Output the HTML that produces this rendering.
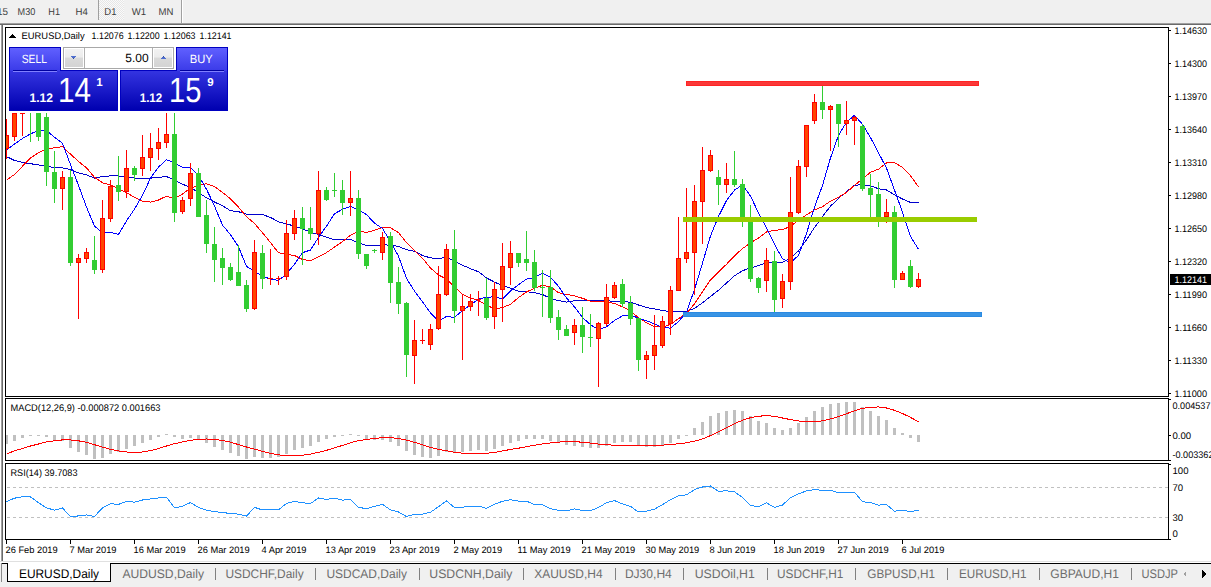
<!DOCTYPE html>
<html><head><meta charset="utf-8">
<style>
html,body{margin:0;padding:0;width:1211px;height:587px;overflow:hidden;background:#fff;}
svg text{font-family:"Liberation Sans",sans-serif;}
</style></head><body>
<svg width="1211" height="587" style="position:absolute;left:0;top:0" shape-rendering="crispEdges">
<defs>
<clipPath id="cm"><rect x="6" y="28" width="1162" height="368"/></clipPath>
<clipPath id="cmacd"><rect x="6" y="399" width="1162" height="61"/></clipPath>
<clipPath id="crsi"><rect x="6" y="464" width="1162" height="75"/></clipPath>
</defs>
<rect x="0" y="0" width="1211" height="23" fill="#f0f0f0"/>
<rect x="0" y="23" width="1211" height="1" fill="#a0a0a0"/>
<rect x="0" y="24" width="1211" height="1" fill="#6a6a6a"/>
<rect x="98" y="0" width="1" height="20" fill="#a0a0a0"/>
<pattern id="dith" width="2" height="2" patternUnits="userSpaceOnUse"><rect width="2" height="2" fill="#fafafa"/><rect width="1" height="1" fill="#e6e6e6"/><rect x="1" y="1" width="1" height="1" fill="#e6e6e6"/></pattern><rect x="99" y="0" width="25" height="20" fill="url(#dith)"/>
<rect x="181" y="0" width="1" height="23" fill="#a0a0a0"/>
<rect x="182" y="0" width="1" height="23" fill="#ffffff"/>
<rect x="1" y="25" width="1" height="536" fill="#a0a0a0"/>
<rect x="2" y="25" width="1" height="536" fill="#6a6a6a"/>
<rect x="5.5" y="27.5" width="1163" height="369" fill="none" stroke="#000" stroke-width="1"/>
<rect x="5.5" y="398.5" width="1163" height="62" fill="none" stroke="#000" stroke-width="1"/>
<rect x="5.5" y="463.5" width="1163" height="76" fill="none" stroke="#000" stroke-width="1"/>
<rect x="0" y="561" width="1211" height="26" fill="#f0f0f0"/>
<rect x="0" y="561" width="1211" height="1" fill="#e0e0e0"/>
<rect x="0" y="562" width="1211" height="1" fill="#ffffff"/>
<rect x="1" y="563" width="1210" height="1" fill="#000"/>
<rect x="1" y="563" width="1" height="19" fill="#8a8a8a"/>
<rect x="7" y="563" width="104" height="19" fill="#fff"/>
<rect x="7" y="563" width="1" height="19" fill="#000"/>
<rect x="110" y="563" width="1" height="19" fill="#000"/>
<rect x="7" y="581" width="104" height="1" fill="#000"/>
<rect x="215" y="568" width="1" height="12" fill="#808080"/>
<rect x="315" y="568" width="1" height="12" fill="#808080"/>
<rect x="419" y="568" width="1" height="12" fill="#808080"/>
<rect x="523" y="568" width="1" height="12" fill="#808080"/>
<rect x="615" y="568" width="1" height="12" fill="#808080"/>
<rect x="683" y="568" width="1" height="12" fill="#808080"/>
<rect x="767" y="568" width="1" height="12" fill="#808080"/>
<rect x="855" y="568" width="1" height="12" fill="#808080"/>
<rect x="947" y="568" width="1" height="12" fill="#808080"/>
<rect x="1039" y="568" width="1" height="12" fill="#808080"/>
<rect x="1131" y="568" width="1" height="12" fill="#808080"/>
<g clip-path="url(#cm)"><polyline points="6.5,156.6 14.5,160.5 22.5,162.3 30.5,163.7 38.5,164.9 46.5,166.0 54.5,167.7 62.5,167.9 70.5,169.6 78.5,172.9 86.5,174.9 94.5,178.1 102.5,176.4 110.5,175.9 118.5,175.9 126.5,177.3 134.5,178.1 142.5,178.7 150.5,178.1 158.5,177.5 166.5,176.5 174.5,180.2 182.5,184.3 190.5,187.2 198.5,192.7 206.5,197.8 214.5,202.0 222.5,205.8 230.5,210.7 238.5,211.7 246.5,214.1 254.5,214.1 262.5,214.6 270.5,217.4 278.5,221.8 286.5,223.8 294.5,226.2 302.5,228.7 310.5,232.3 318.5,234.4 326.5,237.1 334.5,239.8 342.5,239.3 350.5,239.2 358.5,243.0 366.5,245.4 374.5,245.7 382.5,244.6 390.5,245.3 398.5,246.4 406.5,249.7 414.5,251.2 422.5,255.5 430.5,257.9 438.5,258.6 446.5,257.3 454.5,261.0 462.5,265.2 470.5,268.7 478.5,271.8 486.5,277.9 494.5,282.1 502.5,285.7 510.5,288.2 518.5,291.2 526.5,291.7 534.5,292.7 542.5,294.5 550.5,298.4 558.5,300.6 566.5,302.1 574.5,300.7 582.5,300.5 590.5,300.4 598.5,300.1 606.5,300.2 614.5,301.9 622.5,301.6 630.5,302.2 638.5,305.0 646.5,307.6 654.5,308.9 662.5,310.5 670.5,311.6 678.5,311.8 686.5,311.3 694.5,308.4 702.5,302.8 710.5,296.5 718.5,290.2 726.5,283.0 734.5,275.8 742.5,270.7 750.5,267.9 758.5,265.6 766.5,262.6 774.5,262.7 782.5,262.5 790.5,258.1 798.5,250.9 806.5,239.7 814.5,227.6 822.5,216.4 830.5,206.2 838.5,198.3 846.5,191.7 854.5,185.3 862.5,184.6 870.5,185.8 878.5,188.7 886.5,190.0 894.5,194.8 902.5,199.0 910.5,202.4 918.5,202.4" fill="none" stroke="#0000cd" stroke-width="1"/>
<polyline points="6.5,180.3 14.5,174.4 22.5,166.2 30.5,158.1 38.5,152.6 46.5,149.0 54.5,147.7 62.5,146.7 70.5,154.1 78.5,161.5 86.5,167.9 94.5,177.3 102.5,182.8 110.5,184.8 118.5,188.9 126.5,192.8 134.5,197.2 142.5,201.3 150.5,202.1 158.5,200.0 166.5,196.1 174.5,198.6 182.5,194.1 190.5,188.1 198.5,185.5 206.5,183.7 214.5,186.6 222.5,192.4 230.5,198.8 238.5,207.2 246.5,216.7 254.5,223.5 262.5,232.8 270.5,242.6 278.5,252.8 286.5,254.3 294.5,255.5 302.5,259.5 310.5,260.7 318.5,256.9 326.5,252.6 334.5,247.1 342.5,241.6 350.5,235.3 358.5,231.4 366.5,232.3 374.5,230.3 382.5,227.4 390.5,227.7 398.5,232.7 406.5,242.5 414.5,250.5 422.5,258.2 430.5,268.1 438.5,274.9 446.5,279.1 454.5,286.8 462.5,294.5 470.5,298.0 478.5,300.4 486.5,305.2 494.5,308.9 502.5,307.7 510.5,304.2 518.5,297.6 526.5,292.0 534.5,288.2 542.5,285.3 550.5,286.9 558.5,292.7 566.5,294.5 574.5,295.8 582.5,298.3 590.5,301.1 598.5,301.4 606.5,302.0 614.5,303.4 622.5,306.9 630.5,310.9 638.5,317.9 646.5,322.7 654.5,326.8 662.5,327.1 670.5,324.3 678.5,318.7 686.5,313.5 694.5,303.8 702.5,291.9 710.5,279.9 718.5,271.9 726.5,264.3 734.5,255.8 742.5,248.6 750.5,242.8 758.5,238.0 766.5,231.9 774.5,230.3 782.5,229.7 790.5,226.4 798.5,220.2 806.5,214.8 814.5,209.9 822.5,206.7 830.5,201.1 838.5,197.1 846.5,192.5 854.5,185.4 862.5,178.9 870.5,172.3 878.5,169.2 886.5,162.9 894.5,162.8 902.5,167.2 910.5,175.8 918.5,186.8" fill="none" stroke="#ff0000" stroke-width="1"/>
<polyline points="6.5,150.0 14.5,144.0 22.5,138.5 30.5,133.8 38.5,130.6 46.5,130.6 54.5,137.3 62.5,143.3 70.5,164.7 78.5,185.4 86.5,207.1 94.5,226.1 102.5,232.8 110.5,232.4 118.5,234.5 126.5,220.9 134.5,209.0 142.5,195.4 150.5,178.1 158.5,167.1 166.5,159.8 174.5,162.8 182.5,167.4 190.5,167.2 198.5,175.6 206.5,189.2 214.5,206.1 222.5,225.1 230.5,234.7 238.5,246.9 246.5,266.3 254.5,271.4 262.5,276.4 270.5,279.0 278.5,280.5 286.5,273.9 294.5,264.1 302.5,252.7 310.5,250.0 318.5,237.4 326.5,226.2 334.5,213.7 342.5,209.3 350.5,206.5 358.5,210.0 366.5,214.6 374.5,223.2 382.5,228.5 390.5,241.7 398.5,256.2 406.5,278.5 414.5,291.0 422.5,301.7 430.5,313.0 438.5,321.2 446.5,316.4 454.5,317.4 462.5,310.5 470.5,304.9 478.5,299.0 486.5,297.4 494.5,296.7 502.5,299.1 510.5,290.9 518.5,284.7 526.5,279.1 534.5,277.5 542.5,273.2 550.5,277.2 558.5,286.3 566.5,298.0 574.5,306.9 582.5,317.5 590.5,324.7 598.5,329.7 606.5,326.8 614.5,320.5 622.5,315.8 630.5,314.9 638.5,318.2 646.5,320.7 654.5,323.9 662.5,327.4 670.5,328.1 678.5,321.6 686.5,312.1 694.5,289.5 702.5,263.1 710.5,235.9 718.5,216.4 726.5,200.6 734.5,190.1 742.5,185.0 750.5,196.1 758.5,212.9 766.5,227.9 774.5,244.3 782.5,258.8 790.5,262.7 798.5,255.4 806.5,233.5 814.5,207.0 822.5,185.5 830.5,157.9 838.5,135.4 846.5,122.3 854.5,115.3 862.5,124.3 870.5,137.5 878.5,152.8 886.5,168.0 894.5,190.2 902.5,212.1 910.5,236.4 918.5,249.4" fill="none" stroke="#0000ff" stroke-width="1"/>
<rect x="6" y="119" width="1" height="40" fill="#ff0000"/>
<rect x="4" y="135" width="5" height="14" fill="#ff0000"/>
<rect x="5" y="136" width="3" height="12" fill="#ff4500"/>
<rect x="14" y="113" width="1" height="28" fill="#ff0000"/>
<rect x="12" y="113" width="5" height="24" fill="#ff0000"/>
<rect x="13" y="114" width="3" height="22" fill="#ff4500"/>
<rect x="22" y="113" width="1" height="23" fill="#ff0000"/>
<rect x="20" y="113" width="5" height="1" fill="#ff0000"/>
<rect x="30" y="113" width="1" height="29" fill="#32cd32"/>
<rect x="28" y="100" width="5" height="1" fill="#32cd32"/>
<rect x="38" y="113" width="1" height="28" fill="#32cd32"/>
<rect x="36" y="113" width="5" height="24" fill="#32cd32"/>
<rect x="46" y="113" width="1" height="73" fill="#32cd32"/>
<rect x="44" y="117" width="5" height="55" fill="#32cd32"/>
<rect x="54" y="151" width="1" height="52" fill="#32cd32"/>
<rect x="52" y="172" width="5" height="17" fill="#32cd32"/>
<rect x="62" y="171" width="1" height="39" fill="#ff0000"/>
<rect x="60" y="177" width="5" height="12" fill="#ff0000"/>
<rect x="61" y="178" width="3" height="10" fill="#ff4500"/>
<rect x="70" y="170" width="1" height="96" fill="#32cd32"/>
<rect x="68" y="177" width="5" height="86" fill="#32cd32"/>
<rect x="78" y="254" width="1" height="65" fill="#ff0000"/>
<rect x="76" y="258" width="5" height="5" fill="#ff0000"/>
<rect x="77" y="259" width="3" height="3" fill="#ff4500"/>
<rect x="86" y="248" width="1" height="15" fill="#ff0000"/>
<rect x="84" y="252" width="5" height="7" fill="#ff0000"/>
<rect x="85" y="253" width="3" height="5" fill="#ff4500"/>
<rect x="94" y="236" width="1" height="38" fill="#32cd32"/>
<rect x="92" y="260" width="5" height="10" fill="#32cd32"/>
<rect x="102" y="200" width="1" height="73" fill="#ff0000"/>
<rect x="100" y="218" width="5" height="52" fill="#ff0000"/>
<rect x="101" y="219" width="3" height="50" fill="#ff4500"/>
<rect x="110" y="180" width="1" height="42" fill="#ff0000"/>
<rect x="108" y="186" width="5" height="33" fill="#ff0000"/>
<rect x="109" y="187" width="3" height="31" fill="#ff4500"/>
<rect x="118" y="156" width="1" height="45" fill="#32cd32"/>
<rect x="116" y="185" width="5" height="7" fill="#32cd32"/>
<rect x="126" y="150" width="1" height="48" fill="#ff0000"/>
<rect x="124" y="168" width="5" height="24" fill="#ff0000"/>
<rect x="125" y="169" width="3" height="22" fill="#ff4500"/>
<rect x="134" y="166" width="1" height="15" fill="#32cd32"/>
<rect x="132" y="168" width="5" height="7" fill="#32cd32"/>
<rect x="142" y="135" width="1" height="41" fill="#ff0000"/>
<rect x="140" y="157" width="5" height="12" fill="#ff0000"/>
<rect x="141" y="158" width="3" height="10" fill="#ff4500"/>
<rect x="150" y="133" width="1" height="38" fill="#ff0000"/>
<rect x="148" y="148" width="5" height="10" fill="#ff0000"/>
<rect x="149" y="149" width="3" height="8" fill="#ff4500"/>
<rect x="158" y="128" width="1" height="32" fill="#ff0000"/>
<rect x="156" y="142" width="5" height="7" fill="#ff0000"/>
<rect x="157" y="143" width="3" height="5" fill="#ff4500"/>
<rect x="166" y="113" width="1" height="35" fill="#ff0000"/>
<rect x="164" y="134" width="5" height="9" fill="#ff0000"/>
<rect x="165" y="135" width="3" height="7" fill="#ff4500"/>
<rect x="174" y="113" width="1" height="109" fill="#32cd32"/>
<rect x="172" y="134" width="5" height="79" fill="#32cd32"/>
<rect x="182" y="197" width="1" height="17" fill="#ff0000"/>
<rect x="180" y="200" width="5" height="12" fill="#ff0000"/>
<rect x="181" y="201" width="3" height="10" fill="#ff4500"/>
<rect x="190" y="163" width="1" height="43" fill="#ff0000"/>
<rect x="188" y="173" width="5" height="26" fill="#ff0000"/>
<rect x="189" y="174" width="3" height="24" fill="#ff4500"/>
<rect x="198" y="168" width="1" height="49" fill="#32cd32"/>
<rect x="196" y="173" width="5" height="44" fill="#32cd32"/>
<rect x="206" y="200" width="1" height="53" fill="#32cd32"/>
<rect x="204" y="215" width="5" height="29" fill="#32cd32"/>
<rect x="214" y="227" width="1" height="55" fill="#32cd32"/>
<rect x="212" y="244" width="5" height="16" fill="#32cd32"/>
<rect x="222" y="248" width="1" height="37" fill="#32cd32"/>
<rect x="220" y="258" width="5" height="10" fill="#32cd32"/>
<rect x="230" y="263" width="1" height="18" fill="#32cd32"/>
<rect x="228" y="267" width="5" height="13" fill="#32cd32"/>
<rect x="238" y="245" width="1" height="41" fill="#32cd32"/>
<rect x="236" y="272" width="5" height="14" fill="#32cd32"/>
<rect x="246" y="280" width="1" height="32" fill="#32cd32"/>
<rect x="244" y="285" width="5" height="24" fill="#32cd32"/>
<rect x="254" y="240" width="1" height="70" fill="#ff0000"/>
<rect x="252" y="252" width="5" height="57" fill="#ff0000"/>
<rect x="253" y="253" width="3" height="55" fill="#ff4500"/>
<rect x="262" y="245" width="1" height="44" fill="#32cd32"/>
<rect x="260" y="253" width="5" height="26" fill="#32cd32"/>
<rect x="270" y="249" width="1" height="36" fill="#ff0000"/>
<rect x="268" y="278" width="5" height="1" fill="#ff0000"/>
<rect x="278" y="276" width="1" height="9" fill="#ff0000"/>
<rect x="276" y="278" width="5" height="1" fill="#ff0000"/>
<rect x="286" y="220" width="1" height="60" fill="#ff0000"/>
<rect x="284" y="233" width="5" height="44" fill="#ff0000"/>
<rect x="285" y="234" width="3" height="42" fill="#ff4500"/>
<rect x="294" y="210" width="1" height="30" fill="#ff0000"/>
<rect x="292" y="218" width="5" height="16" fill="#ff0000"/>
<rect x="293" y="219" width="3" height="14" fill="#ff4500"/>
<rect x="302" y="207" width="1" height="58" fill="#32cd32"/>
<rect x="300" y="218" width="5" height="11" fill="#32cd32"/>
<rect x="310" y="207" width="1" height="33" fill="#32cd32"/>
<rect x="308" y="228" width="5" height="6" fill="#32cd32"/>
<rect x="318" y="171" width="1" height="74" fill="#ff0000"/>
<rect x="316" y="190" width="5" height="44" fill="#ff0000"/>
<rect x="317" y="191" width="3" height="42" fill="#ff4500"/>
<rect x="326" y="187" width="1" height="14" fill="#32cd32"/>
<rect x="324" y="190" width="5" height="10" fill="#32cd32"/>
<rect x="334" y="173" width="1" height="24" fill="#32cd32"/>
<rect x="332" y="190" width="5" height="1" fill="#32cd32"/>
<rect x="342" y="180" width="1" height="35" fill="#32cd32"/>
<rect x="340" y="190" width="5" height="13" fill="#32cd32"/>
<rect x="350" y="171" width="1" height="45" fill="#ff0000"/>
<rect x="348" y="198" width="5" height="5" fill="#ff0000"/>
<rect x="349" y="199" width="3" height="3" fill="#ff4500"/>
<rect x="358" y="190" width="1" height="69" fill="#32cd32"/>
<rect x="356" y="198" width="5" height="56" fill="#32cd32"/>
<rect x="366" y="254" width="1" height="15" fill="#32cd32"/>
<rect x="364" y="254" width="5" height="12" fill="#32cd32"/>
<rect x="374" y="249" width="1" height="4" fill="#32cd32"/>
<rect x="372" y="250" width="5" height="1" fill="#32cd32"/>
<rect x="382" y="232" width="1" height="28" fill="#ff0000"/>
<rect x="380" y="237" width="5" height="16" fill="#ff0000"/>
<rect x="381" y="238" width="3" height="14" fill="#ff4500"/>
<rect x="390" y="232" width="1" height="71" fill="#32cd32"/>
<rect x="388" y="236" width="5" height="47" fill="#32cd32"/>
<rect x="398" y="267" width="1" height="47" fill="#32cd32"/>
<rect x="396" y="282" width="5" height="22" fill="#32cd32"/>
<rect x="406" y="302" width="1" height="75" fill="#32cd32"/>
<rect x="404" y="303" width="5" height="52" fill="#32cd32"/>
<rect x="414" y="320" width="1" height="64" fill="#ff0000"/>
<rect x="412" y="340" width="5" height="16" fill="#ff0000"/>
<rect x="413" y="341" width="3" height="14" fill="#ff4500"/>
<rect x="422" y="329" width="1" height="15" fill="#ff0000"/>
<rect x="420" y="340" width="5" height="1" fill="#ff0000"/>
<rect x="430" y="324" width="1" height="26" fill="#ff0000"/>
<rect x="428" y="329" width="5" height="16" fill="#ff0000"/>
<rect x="429" y="330" width="3" height="14" fill="#ff4500"/>
<rect x="438" y="266" width="1" height="64" fill="#ff0000"/>
<rect x="436" y="294" width="5" height="35" fill="#ff0000"/>
<rect x="437" y="295" width="3" height="33" fill="#ff4500"/>
<rect x="446" y="244" width="1" height="52" fill="#ff0000"/>
<rect x="444" y="249" width="5" height="46" fill="#ff0000"/>
<rect x="445" y="250" width="3" height="44" fill="#ff4500"/>
<rect x="454" y="230" width="1" height="93" fill="#32cd32"/>
<rect x="452" y="249" width="5" height="62" fill="#32cd32"/>
<rect x="462" y="295" width="1" height="65" fill="#ff0000"/>
<rect x="460" y="306" width="5" height="5" fill="#ff0000"/>
<rect x="461" y="307" width="3" height="3" fill="#ff4500"/>
<rect x="470" y="294" width="1" height="17" fill="#ff0000"/>
<rect x="468" y="301" width="5" height="6" fill="#ff0000"/>
<rect x="469" y="302" width="3" height="4" fill="#ff4500"/>
<rect x="478" y="291" width="1" height="25" fill="#ff0000"/>
<rect x="476" y="299" width="5" height="1" fill="#ff0000"/>
<rect x="486" y="278" width="1" height="42" fill="#32cd32"/>
<rect x="484" y="298" width="5" height="20" fill="#32cd32"/>
<rect x="494" y="282" width="1" height="47" fill="#ff0000"/>
<rect x="492" y="289" width="5" height="28" fill="#ff0000"/>
<rect x="493" y="290" width="3" height="26" fill="#ff4500"/>
<rect x="502" y="243" width="1" height="79" fill="#ff0000"/>
<rect x="500" y="266" width="5" height="24" fill="#ff0000"/>
<rect x="501" y="267" width="3" height="22" fill="#ff4500"/>
<rect x="510" y="241" width="1" height="44" fill="#ff0000"/>
<rect x="508" y="253" width="5" height="15" fill="#ff0000"/>
<rect x="509" y="254" width="3" height="13" fill="#ff4500"/>
<rect x="518" y="253" width="1" height="14" fill="#32cd32"/>
<rect x="516" y="253" width="5" height="10" fill="#32cd32"/>
<rect x="526" y="231" width="1" height="40" fill="#32cd32"/>
<rect x="524" y="259" width="5" height="4" fill="#32cd32"/>
<rect x="534" y="250" width="1" height="41" fill="#32cd32"/>
<rect x="532" y="262" width="5" height="26" fill="#32cd32"/>
<rect x="542" y="270" width="1" height="47" fill="#32cd32"/>
<rect x="540" y="287" width="5" height="1" fill="#32cd32"/>
<rect x="550" y="270" width="1" height="53" fill="#32cd32"/>
<rect x="548" y="287" width="5" height="31" fill="#32cd32"/>
<rect x="558" y="310" width="1" height="30" fill="#32cd32"/>
<rect x="556" y="317" width="5" height="13" fill="#32cd32"/>
<rect x="566" y="325" width="1" height="11" fill="#32cd32"/>
<rect x="564" y="329" width="5" height="7" fill="#32cd32"/>
<rect x="574" y="319" width="1" height="26" fill="#ff0000"/>
<rect x="572" y="325" width="5" height="8" fill="#ff0000"/>
<rect x="573" y="326" width="3" height="6" fill="#ff4500"/>
<rect x="582" y="307" width="1" height="46" fill="#32cd32"/>
<rect x="580" y="325" width="5" height="12" fill="#32cd32"/>
<rect x="590" y="314" width="1" height="33" fill="#32cd32"/>
<rect x="588" y="337" width="5" height="1" fill="#32cd32"/>
<rect x="598" y="322" width="1" height="65" fill="#ff0000"/>
<rect x="596" y="323" width="5" height="16" fill="#ff0000"/>
<rect x="597" y="324" width="3" height="14" fill="#ff4500"/>
<rect x="606" y="284" width="1" height="42" fill="#ff0000"/>
<rect x="604" y="297" width="5" height="27" fill="#ff0000"/>
<rect x="605" y="298" width="3" height="25" fill="#ff4500"/>
<rect x="614" y="282" width="1" height="17" fill="#ff0000"/>
<rect x="612" y="285" width="5" height="13" fill="#ff0000"/>
<rect x="613" y="286" width="3" height="11" fill="#ff4500"/>
<rect x="622" y="279" width="1" height="28" fill="#32cd32"/>
<rect x="620" y="284" width="5" height="20" fill="#32cd32"/>
<rect x="630" y="296" width="1" height="29" fill="#32cd32"/>
<rect x="628" y="303" width="5" height="16" fill="#32cd32"/>
<rect x="638" y="318" width="1" height="53" fill="#32cd32"/>
<rect x="636" y="318" width="5" height="42" fill="#32cd32"/>
<rect x="646" y="351" width="1" height="28" fill="#ff0000"/>
<rect x="644" y="355" width="5" height="5" fill="#ff0000"/>
<rect x="645" y="356" width="3" height="3" fill="#ff4500"/>
<rect x="654" y="315" width="1" height="55" fill="#ff0000"/>
<rect x="652" y="345" width="5" height="11" fill="#ff0000"/>
<rect x="653" y="346" width="3" height="9" fill="#ff4500"/>
<rect x="662" y="316" width="1" height="32" fill="#ff0000"/>
<rect x="660" y="321" width="5" height="25" fill="#ff0000"/>
<rect x="661" y="322" width="3" height="23" fill="#ff4500"/>
<rect x="670" y="286" width="1" height="49" fill="#ff0000"/>
<rect x="668" y="290" width="5" height="34" fill="#ff0000"/>
<rect x="669" y="291" width="3" height="32" fill="#ff4500"/>
<rect x="678" y="217" width="1" height="74" fill="#ff0000"/>
<rect x="676" y="258" width="5" height="33" fill="#ff0000"/>
<rect x="677" y="259" width="3" height="31" fill="#ff4500"/>
<rect x="686" y="188" width="1" height="75" fill="#ff0000"/>
<rect x="684" y="252" width="5" height="7" fill="#ff0000"/>
<rect x="685" y="253" width="3" height="5" fill="#ff4500"/>
<rect x="694" y="185" width="1" height="110" fill="#ff0000"/>
<rect x="692" y="201" width="5" height="52" fill="#ff0000"/>
<rect x="693" y="202" width="3" height="50" fill="#ff4500"/>
<rect x="702" y="147" width="1" height="97" fill="#ff0000"/>
<rect x="700" y="170" width="5" height="32" fill="#ff0000"/>
<rect x="701" y="171" width="3" height="30" fill="#ff4500"/>
<rect x="710" y="150" width="1" height="22" fill="#ff0000"/>
<rect x="708" y="155" width="5" height="16" fill="#ff0000"/>
<rect x="709" y="156" width="3" height="14" fill="#ff4500"/>
<rect x="718" y="170" width="1" height="35" fill="#32cd32"/>
<rect x="716" y="177" width="5" height="8" fill="#32cd32"/>
<rect x="726" y="163" width="1" height="30" fill="#ff0000"/>
<rect x="724" y="179" width="5" height="6" fill="#ff0000"/>
<rect x="725" y="180" width="3" height="4" fill="#ff4500"/>
<rect x="734" y="151" width="1" height="36" fill="#32cd32"/>
<rect x="732" y="179" width="5" height="6" fill="#32cd32"/>
<rect x="742" y="179" width="1" height="48" fill="#32cd32"/>
<rect x="740" y="184" width="5" height="33" fill="#32cd32"/>
<rect x="750" y="205" width="1" height="77" fill="#32cd32"/>
<rect x="748" y="222" width="5" height="57" fill="#32cd32"/>
<rect x="758" y="277" width="1" height="16" fill="#32cd32"/>
<rect x="756" y="278" width="5" height="10" fill="#32cd32"/>
<rect x="766" y="248" width="1" height="44" fill="#ff0000"/>
<rect x="764" y="260" width="5" height="21" fill="#ff0000"/>
<rect x="765" y="261" width="3" height="19" fill="#ff4500"/>
<rect x="774" y="251" width="1" height="61" fill="#32cd32"/>
<rect x="772" y="261" width="5" height="39" fill="#32cd32"/>
<rect x="782" y="274" width="1" height="34" fill="#ff0000"/>
<rect x="780" y="281" width="5" height="18" fill="#ff0000"/>
<rect x="781" y="282" width="3" height="16" fill="#ff4500"/>
<rect x="790" y="177" width="1" height="113" fill="#ff0000"/>
<rect x="788" y="212" width="5" height="70" fill="#ff0000"/>
<rect x="789" y="213" width="3" height="68" fill="#ff4500"/>
<rect x="798" y="160" width="1" height="54" fill="#ff0000"/>
<rect x="796" y="166" width="5" height="47" fill="#ff0000"/>
<rect x="797" y="167" width="3" height="45" fill="#ff4500"/>
<rect x="806" y="125" width="1" height="52" fill="#ff0000"/>
<rect x="804" y="125" width="5" height="42" fill="#ff0000"/>
<rect x="805" y="126" width="3" height="40" fill="#ff4500"/>
<rect x="814" y="94" width="1" height="30" fill="#ff0000"/>
<rect x="812" y="102" width="5" height="19" fill="#ff0000"/>
<rect x="813" y="103" width="3" height="17" fill="#ff4500"/>
<rect x="822" y="86" width="1" height="33" fill="#32cd32"/>
<rect x="820" y="102" width="5" height="8" fill="#32cd32"/>
<rect x="830" y="105" width="1" height="46" fill="#ff0000"/>
<rect x="828" y="106" width="5" height="4" fill="#ff0000"/>
<rect x="829" y="107" width="3" height="2" fill="#ff4500"/>
<rect x="838" y="104" width="1" height="43" fill="#32cd32"/>
<rect x="836" y="104" width="5" height="20" fill="#32cd32"/>
<rect x="846" y="101" width="1" height="34" fill="#ff0000"/>
<rect x="844" y="120" width="5" height="4" fill="#ff0000"/>
<rect x="845" y="121" width="3" height="2" fill="#ff4500"/>
<rect x="854" y="116" width="1" height="29" fill="#ff0000"/>
<rect x="852" y="117" width="5" height="4" fill="#ff0000"/>
<rect x="853" y="118" width="3" height="2" fill="#ff4500"/>
<rect x="862" y="124" width="1" height="67" fill="#32cd32"/>
<rect x="860" y="126" width="5" height="63" fill="#32cd32"/>
<rect x="870" y="174" width="1" height="43" fill="#32cd32"/>
<rect x="868" y="188" width="5" height="7" fill="#32cd32"/>
<rect x="878" y="182" width="1" height="45" fill="#32cd32"/>
<rect x="876" y="194" width="5" height="23" fill="#32cd32"/>
<rect x="886" y="199" width="1" height="24" fill="#ff0000"/>
<rect x="884" y="212" width="5" height="5" fill="#ff0000"/>
<rect x="885" y="213" width="3" height="3" fill="#ff4500"/>
<rect x="894" y="206" width="1" height="82" fill="#32cd32"/>
<rect x="892" y="212" width="5" height="68" fill="#32cd32"/>
<rect x="902" y="271" width="1" height="9" fill="#ff0000"/>
<rect x="900" y="273" width="5" height="7" fill="#ff0000"/>
<rect x="901" y="274" width="3" height="5" fill="#ff4500"/>
<rect x="910" y="260" width="1" height="28" fill="#32cd32"/>
<rect x="908" y="266" width="5" height="21" fill="#32cd32"/>
<rect x="918" y="273" width="1" height="15" fill="#ff0000"/>
<rect x="916" y="279" width="5" height="8" fill="#ff0000"/>
<rect x="917" y="280" width="3" height="6" fill="#ff4500"/>
<rect x="686" y="81" width="293" height="5" fill="#ff2424"/><rect x="687" y="82" width="291" height="3" fill="#fa3838"/>
<rect x="683" y="217" width="294" height="5" fill="#99cc00"/>
<rect x="683" y="312" width="299" height="5" fill="#2a8ae2"/><rect x="684" y="313" width="297" height="3" fill="#3994e4"/>
<rect x="6" y="28" width="226" height="85" fill="#fff"/></g>
<g clip-path="url(#cmacd)"><rect x="5" y="435" width="3" height="9" fill="#c0c0c0"/>
<rect x="13" y="435" width="3" height="6" fill="#c0c0c0"/>
<rect x="21" y="435" width="3" height="3" fill="#c0c0c0"/>
<rect x="29" y="435" width="3" height="1" fill="#c0c0c0"/>
<rect x="37" y="435" width="3" height="1" fill="#c0c0c0"/>
<rect x="45" y="435" width="3" height="2" fill="#c0c0c0"/>
<rect x="53" y="435" width="3" height="5" fill="#c0c0c0"/>
<rect x="61" y="435" width="3" height="6" fill="#c0c0c0"/>
<rect x="69" y="435" width="3" height="13" fill="#c0c0c0"/>
<rect x="77" y="435" width="3" height="17" fill="#c0c0c0"/>
<rect x="85" y="435" width="3" height="20" fill="#c0c0c0"/>
<rect x="93" y="435" width="3" height="24" fill="#c0c0c0"/>
<rect x="101" y="435" width="3" height="23" fill="#c0c0c0"/>
<rect x="109" y="435" width="3" height="19" fill="#c0c0c0"/>
<rect x="117" y="435" width="3" height="17" fill="#c0c0c0"/>
<rect x="125" y="435" width="3" height="14" fill="#c0c0c0"/>
<rect x="133" y="435" width="3" height="11" fill="#c0c0c0"/>
<rect x="141" y="435" width="3" height="8" fill="#c0c0c0"/>
<rect x="149" y="435" width="3" height="5" fill="#c0c0c0"/>
<rect x="157" y="435" width="3" height="2" fill="#c0c0c0"/>
<rect x="165" y="434" width="3" height="1" fill="#c0c0c0"/>
<rect x="173" y="435" width="3" height="2" fill="#c0c0c0"/>
<rect x="181" y="435" width="3" height="4" fill="#c0c0c0"/>
<rect x="189" y="435" width="3" height="3" fill="#c0c0c0"/>
<rect x="197" y="435" width="3" height="5" fill="#c0c0c0"/>
<rect x="205" y="435" width="3" height="8" fill="#c0c0c0"/>
<rect x="213" y="435" width="3" height="12" fill="#c0c0c0"/>
<rect x="221" y="435" width="3" height="15" fill="#c0c0c0"/>
<rect x="229" y="435" width="3" height="18" fill="#c0c0c0"/>
<rect x="237" y="435" width="3" height="21" fill="#c0c0c0"/>
<rect x="245" y="435" width="3" height="24" fill="#c0c0c0"/>
<rect x="253" y="435" width="3" height="22" fill="#c0c0c0"/>
<rect x="261" y="435" width="3" height="23" fill="#c0c0c0"/>
<rect x="269" y="435" width="3" height="23" fill="#c0c0c0"/>
<rect x="277" y="435" width="3" height="22" fill="#c0c0c0"/>
<rect x="285" y="435" width="3" height="19" fill="#c0c0c0"/>
<rect x="293" y="435" width="3" height="15" fill="#c0c0c0"/>
<rect x="301" y="435" width="3" height="13" fill="#c0c0c0"/>
<rect x="309" y="435" width="3" height="11" fill="#c0c0c0"/>
<rect x="317" y="435" width="3" height="7" fill="#c0c0c0"/>
<rect x="325" y="435" width="3" height="4" fill="#c0c0c0"/>
<rect x="333" y="435" width="3" height="2" fill="#c0c0c0"/>
<rect x="341" y="435" width="3" height="1" fill="#c0c0c0"/>
<rect x="349" y="434" width="3" height="1" fill="#c0c0c0"/>
<rect x="357" y="435" width="3" height="1" fill="#c0c0c0"/>
<rect x="365" y="435" width="3" height="4" fill="#c0c0c0"/>
<rect x="373" y="435" width="3" height="5" fill="#c0c0c0"/>
<rect x="381" y="435" width="3" height="5" fill="#c0c0c0"/>
<rect x="389" y="435" width="3" height="7" fill="#c0c0c0"/>
<rect x="397" y="435" width="3" height="11" fill="#c0c0c0"/>
<rect x="405" y="435" width="3" height="16" fill="#c0c0c0"/>
<rect x="413" y="435" width="3" height="20" fill="#c0c0c0"/>
<rect x="421" y="435" width="3" height="22" fill="#c0c0c0"/>
<rect x="429" y="435" width="3" height="23" fill="#c0c0c0"/>
<rect x="437" y="435" width="3" height="21" fill="#c0c0c0"/>
<rect x="445" y="435" width="3" height="17" fill="#c0c0c0"/>
<rect x="453" y="435" width="3" height="17" fill="#c0c0c0"/>
<rect x="461" y="435" width="3" height="17" fill="#c0c0c0"/>
<rect x="469" y="435" width="3" height="16" fill="#c0c0c0"/>
<rect x="477" y="435" width="3" height="15" fill="#c0c0c0"/>
<rect x="485" y="435" width="3" height="16" fill="#c0c0c0"/>
<rect x="493" y="435" width="3" height="14" fill="#c0c0c0"/>
<rect x="501" y="435" width="3" height="11" fill="#c0c0c0"/>
<rect x="509" y="435" width="3" height="8" fill="#c0c0c0"/>
<rect x="517" y="435" width="3" height="6" fill="#c0c0c0"/>
<rect x="525" y="435" width="3" height="4" fill="#c0c0c0"/>
<rect x="533" y="435" width="3" height="4" fill="#c0c0c0"/>
<rect x="541" y="435" width="3" height="4" fill="#c0c0c0"/>
<rect x="549" y="435" width="3" height="6" fill="#c0c0c0"/>
<rect x="557" y="435" width="3" height="8" fill="#c0c0c0"/>
<rect x="565" y="435" width="3" height="10" fill="#c0c0c0"/>
<rect x="573" y="435" width="3" height="11" fill="#c0c0c0"/>
<rect x="581" y="435" width="3" height="12" fill="#c0c0c0"/>
<rect x="589" y="435" width="3" height="13" fill="#c0c0c0"/>
<rect x="597" y="435" width="3" height="13" fill="#c0c0c0"/>
<rect x="605" y="435" width="3" height="11" fill="#c0c0c0"/>
<rect x="613" y="435" width="3" height="8" fill="#c0c0c0"/>
<rect x="621" y="435" width="3" height="7" fill="#c0c0c0"/>
<rect x="629" y="435" width="3" height="7" fill="#c0c0c0"/>
<rect x="637" y="435" width="3" height="10" fill="#c0c0c0"/>
<rect x="645" y="435" width="3" height="12" fill="#c0c0c0"/>
<rect x="653" y="435" width="3" height="12" fill="#c0c0c0"/>
<rect x="661" y="435" width="3" height="11" fill="#c0c0c0"/>
<rect x="669" y="435" width="3" height="8" fill="#c0c0c0"/>
<rect x="677" y="435" width="3" height="4" fill="#c0c0c0"/>
<rect x="685" y="435" width="3" height="1" fill="#c0c0c0"/>
<rect x="693" y="428" width="3" height="7" fill="#c0c0c0"/>
<rect x="701" y="422" width="3" height="13" fill="#c0c0c0"/>
<rect x="709" y="416" width="3" height="19" fill="#c0c0c0"/>
<rect x="717" y="413" width="3" height="22" fill="#c0c0c0"/>
<rect x="725" y="411" width="3" height="24" fill="#c0c0c0"/>
<rect x="733" y="410" width="3" height="25" fill="#c0c0c0"/>
<rect x="741" y="411" width="3" height="24" fill="#c0c0c0"/>
<rect x="749" y="416" width="3" height="19" fill="#c0c0c0"/>
<rect x="757" y="421" width="3" height="14" fill="#c0c0c0"/>
<rect x="765" y="423" width="3" height="12" fill="#c0c0c0"/>
<rect x="773" y="428" width="3" height="7" fill="#c0c0c0"/>
<rect x="781" y="430" width="3" height="5" fill="#c0c0c0"/>
<rect x="789" y="428" width="3" height="7" fill="#c0c0c0"/>
<rect x="797" y="423" width="3" height="12" fill="#c0c0c0"/>
<rect x="805" y="417" width="3" height="18" fill="#c0c0c0"/>
<rect x="813" y="411" width="3" height="24" fill="#c0c0c0"/>
<rect x="821" y="407" width="3" height="28" fill="#c0c0c0"/>
<rect x="829" y="404" width="3" height="31" fill="#c0c0c0"/>
<rect x="837" y="403" width="3" height="32" fill="#c0c0c0"/>
<rect x="845" y="402" width="3" height="33" fill="#c0c0c0"/>
<rect x="853" y="402" width="3" height="33" fill="#c0c0c0"/>
<rect x="861" y="407" width="3" height="28" fill="#c0c0c0"/>
<rect x="869" y="411" width="3" height="24" fill="#c0c0c0"/>
<rect x="877" y="416" width="3" height="19" fill="#c0c0c0"/>
<rect x="885" y="420" width="3" height="15" fill="#c0c0c0"/>
<rect x="893" y="428" width="3" height="7" fill="#c0c0c0"/>
<rect x="901" y="433" width="3" height="2" fill="#c0c0c0"/>
<rect x="909" y="435" width="3" height="3" fill="#c0c0c0"/>
<rect x="917" y="435" width="3" height="7" fill="#c0c0c0"/>
<polyline points="6.5,454.1 14.5,450.8 22.5,448.6 30.5,446.0 38.5,444.0 46.5,441.9 54.5,440.8 62.5,439.9 70.5,439.9 78.5,440.8 86.5,442.4 94.5,444.7 102.5,447.2 110.5,449.3 118.5,451.0 126.5,452.0 134.5,452.5 142.5,452.0 150.5,450.6 158.5,448.6 166.5,446.0 174.5,443.7 182.5,441.9 190.5,440.3 198.5,439.3 206.5,439.0 214.5,439.4 222.5,440.5 230.5,442.2 238.5,444.6 246.5,447.0 254.5,449.1 262.5,451.3 270.5,453.3 278.5,454.8 286.5,455.7 294.5,455.7 302.5,455.2 310.5,454.1 318.5,452.3 326.5,450.3 334.5,447.9 342.5,445.4 350.5,442.7 358.5,440.7 366.5,439.4 374.5,438.5 382.5,437.7 390.5,437.7 398.5,438.4 406.5,440.1 414.5,442.3 422.5,444.9 430.5,447.4 438.5,449.4 446.5,450.8 454.5,452.2 462.5,453.2 470.5,453.9 478.5,453.8 486.5,453.3 494.5,452.4 502.5,451.0 510.5,449.4 518.5,448.2 526.5,446.7 534.5,445.3 542.5,443.9 550.5,442.9 558.5,442.1 566.5,441.7 574.5,441.7 582.5,442.2 590.5,443.1 598.5,444.1 606.5,444.8 614.5,445.2 622.5,445.4 630.5,445.3 638.5,445.2 646.5,445.3 654.5,445.3 662.5,445.1 670.5,444.5 678.5,443.8 686.5,442.8 694.5,441.2 702.5,438.9 710.5,435.6 718.5,431.9 726.5,427.8 734.5,423.7 742.5,420.2 750.5,417.7 758.5,416.2 766.5,415.7 774.5,416.3 782.5,418.0 790.5,419.6 798.5,421.0 806.5,421.8 814.5,421.8 822.5,420.8 830.5,418.9 838.5,416.6 846.5,413.8 854.5,410.7 862.5,408.4 870.5,407.1 878.5,407.0 886.5,408.0 894.5,410.3 902.5,413.5 910.5,417.4 918.5,421.8" fill="none" stroke="#ff0000" stroke-width="1"/></g>
<g clip-path="url(#crsi)"><line x1="1" y1="487.5" x2="1168" y2="487.5" stroke="#c0c0c0" stroke-width="1" stroke-dasharray="3,3"/>
<line x1="1" y1="517.5" x2="1168" y2="517.5" stroke="#c0c0c0" stroke-width="1" stroke-dasharray="3,3"/>
<polyline points="6.5,501.6 14.5,498.2 22.5,496.7 30.5,496.9 38.5,502.7 46.5,507.9 54.5,510.1 62.5,508.0 70.5,516.8 78.5,515.9 86.5,514.9 94.5,516.4 102.5,508.0 110.5,503.7 118.5,504.4 126.5,501.4 134.5,502.2 142.5,500.0 150.5,498.9 158.5,498.0 166.5,497.1 174.5,507.9 182.5,506.2 190.5,502.6 198.5,507.5 206.5,510.2 214.5,511.7 222.5,512.4 230.5,513.6 238.5,514.1 246.5,516.2 254.5,507.3 262.5,510.0 270.5,509.9 278.5,509.9 286.5,503.4 294.5,501.4 302.5,502.8 310.5,503.5 318.5,498.0 326.5,499.4 334.5,498.2 342.5,500.1 350.5,499.5 358.5,507.3 366.5,508.7 374.5,506.3 382.5,504.4 390.5,509.9 398.5,512.0 406.5,516.5 414.5,514.2 422.5,514.2 430.5,512.2 438.5,506.7 446.5,500.9 454.5,507.6 462.5,507.1 470.5,506.4 478.5,506.1 486.5,508.3 494.5,504.2 502.5,501.3 510.5,499.7 518.5,501.1 526.5,501.1 534.5,504.7 542.5,504.7 550.5,508.7 558.5,510.2 566.5,510.9 574.5,508.9 582.5,510.5 590.5,510.6 598.5,507.5 606.5,502.7 614.5,500.6 622.5,503.9 630.5,506.4 638.5,512.0 646.5,511.1 654.5,509.1 662.5,504.6 670.5,499.7 678.5,495.6 686.5,494.9 694.5,489.6 702.5,487.0 710.5,485.9 718.5,491.3 726.5,490.8 734.5,491.8 742.5,497.4 750.5,505.6 758.5,506.6 766.5,502.9 774.5,507.4 782.5,505.0 790.5,497.6 798.5,493.8 806.5,490.9 814.5,489.5 822.5,490.5 830.5,490.2 838.5,492.8 846.5,492.5 854.5,492.2 862.5,501.8 870.5,502.6 878.5,505.1 886.5,504.5 894.5,511.2 902.5,510.3 910.5,511.6 918.5,510.4" fill="none" stroke="#1e90ff" stroke-width="1"/></g>
<rect x="1169" y="30" width="2" height="1" fill="#000"/>
<rect x="1169" y="63" width="2" height="1" fill="#000"/>
<rect x="1169" y="96" width="2" height="1" fill="#000"/>
<rect x="1169" y="129" width="2" height="1" fill="#000"/>
<rect x="1169" y="162" width="2" height="1" fill="#000"/>
<rect x="1169" y="195" width="2" height="1" fill="#000"/>
<rect x="1169" y="228" width="2" height="1" fill="#000"/>
<rect x="1169" y="261" width="2" height="1" fill="#000"/>
<rect x="1169" y="294" width="2" height="1" fill="#000"/>
<rect x="1169" y="327" width="2" height="1" fill="#000"/>
<rect x="1169" y="360" width="2" height="1" fill="#000"/>
<rect x="1169" y="393" width="2" height="1" fill="#000"/>
<rect x="1170" y="274" width="41" height="11" fill="#000"/>
<rect x="1169" y="399" width="2" height="1" fill="#000"/>
<rect x="1169" y="435" width="2" height="1" fill="#000"/>
<rect x="1169" y="460" width="2" height="1" fill="#000"/>
<rect x="1169" y="464" width="2" height="1" fill="#000"/>
<rect x="1169" y="539" width="2" height="1" fill="#000"/>
<rect x="6" y="540" width="1" height="4" fill="#000"/>
<rect x="70" y="540" width="1" height="4" fill="#000"/>
<rect x="134" y="540" width="1" height="4" fill="#000"/>
<rect x="198" y="540" width="1" height="4" fill="#000"/>
<rect x="262" y="540" width="1" height="4" fill="#000"/>
<rect x="326" y="540" width="1" height="4" fill="#000"/>
<rect x="390" y="540" width="1" height="4" fill="#000"/>
<rect x="454" y="540" width="1" height="4" fill="#000"/>
<rect x="518" y="540" width="1" height="4" fill="#000"/>
<rect x="582" y="540" width="1" height="4" fill="#000"/>
<rect x="646" y="540" width="1" height="4" fill="#000"/>
<rect x="710" y="540" width="1" height="4" fill="#000"/>
<rect x="774" y="540" width="1" height="4" fill="#000"/>
<rect x="838" y="540" width="1" height="4" fill="#000"/>
<rect x="902" y="540" width="1" height="4" fill="#000"/>
<path d="M9,38 L12.5,34 L16,38 Z" fill="#000"/>
<path d="M1186,571 L1183,574 L1186,577 Z" fill="#a0a0a0"/>
<path d="M1202,570 L1206,574 L1202,578 Z" fill="#000"/>

<defs>
<linearGradient id="gs" x1="0" y1="0" x2="0" y2="1"><stop offset="0" stop-color="#6060ff"/><stop offset="1" stop-color="#3a3ae8"/></linearGradient>
<linearGradient id="gp" x1="0" y1="0" x2="0" y2="1"><stop offset="0" stop-color="#3434e0"/><stop offset="1" stop-color="#0000b0"/></linearGradient>
<linearGradient id="gb" x1="0" y1="0" x2="0" y2="1"><stop offset="0" stop-color="#f2f2f2"/><stop offset="0.45" stop-color="#ececec"/><stop offset="0.5" stop-color="#dadada"/><stop offset="1" stop-color="#d4d4d4"/></linearGradient>
</defs>
<rect x="9" y="47" width="52" height="24" fill="#0000c0"/>
<rect x="10" y="48" width="50" height="23" fill="url(#gs)"/>
<rect x="9" y="70" width="109" height="41" fill="#0000c0"/>
<rect x="10" y="71" width="107" height="39" fill="url(#gp)"/>
<rect x="10" y="70" width="50" height="1" fill="#3c3cea"/>
<rect x="13" y="70" width="44" height="1" fill="#0000a0"/>
<rect x="13" y="71" width="44" height="1" fill="#8080ff"/>
<rect x="176" y="47" width="52" height="24" fill="#0000c0"/>
<rect x="177" y="48" width="50" height="23" fill="url(#gs)"/>
<rect x="120" y="70" width="108" height="41" fill="#0000c0"/>
<rect x="121" y="71" width="106" height="39" fill="url(#gp)"/>
<rect x="177" y="70" width="50" height="1" fill="#3c3cea"/>
<rect x="180" y="70" width="44" height="1" fill="#0000a0"/>
<rect x="180" y="71" width="44" height="1" fill="#8080ff"/>
<rect x="63" y="47" width="111" height="22" fill="#a8a8a8"/>
<rect x="64" y="48" width="109" height="20" fill="#fff"/>
<rect x="84" y="48" width="1" height="20" fill="#b0b0b0"/>
<rect x="152" y="48" width="1" height="20" fill="#b0b0b0"/>
<rect x="65" y="49" width="18" height="18" fill="url(#gb)"/>
<rect x="154" y="49" width="18" height="18" fill="url(#gb)"/>
<rect x="71" y="56" width="5" height="1" fill="#5070d0"/><rect x="72" y="57" width="3" height="1" fill="#4a68c8"/><rect x="73" y="58" width="1" height="1" fill="#3050a0"/>
<rect x="161" y="58" width="5" height="1" fill="#5070d0"/><rect x="162" y="57" width="3" height="1" fill="#4a68c8"/><rect x="163" y="56" width="1" height="1" fill="#3050a0"/>

<g text-rendering="geometricPrecision">
<text x="1174.5" y="34" font-size="9.6" fill="#000" textLength="32.5" lengthAdjust="spacingAndGlyphs">1.14630</text>
<text x="1174.5" y="67" font-size="9.6" fill="#000" textLength="32.5" lengthAdjust="spacingAndGlyphs">1.14300</text>
<text x="1174.5" y="100" font-size="9.6" fill="#000" textLength="32.5" lengthAdjust="spacingAndGlyphs">1.13970</text>
<text x="1174.5" y="133" font-size="9.6" fill="#000" textLength="32.5" lengthAdjust="spacingAndGlyphs">1.13640</text>
<text x="1174.5" y="166" font-size="9.6" fill="#000" textLength="32.5" lengthAdjust="spacingAndGlyphs">1.13310</text>
<text x="1174.5" y="199" font-size="9.6" fill="#000" textLength="32.5" lengthAdjust="spacingAndGlyphs">1.12980</text>
<text x="1174.5" y="232" font-size="9.6" fill="#000" textLength="32.5" lengthAdjust="spacingAndGlyphs">1.12650</text>
<text x="1174.5" y="265" font-size="9.6" fill="#000" textLength="32.5" lengthAdjust="spacingAndGlyphs">1.12320</text>
<text x="1174.5" y="298" font-size="9.6" fill="#000" textLength="32.5" lengthAdjust="spacingAndGlyphs">1.11990</text>
<text x="1174.5" y="331" font-size="9.6" fill="#000" textLength="32.5" lengthAdjust="spacingAndGlyphs">1.11660</text>
<text x="1174.5" y="364" font-size="9.6" fill="#000" textLength="32.5" lengthAdjust="spacingAndGlyphs">1.11330</text>
<text x="1174.5" y="397" font-size="9.6" fill="#000" textLength="32.5" lengthAdjust="spacingAndGlyphs">1.11000</text>
<text x="1174.5" y="283" font-size="9.6" fill="#fff" textLength="32.5" lengthAdjust="spacingAndGlyphs">1.12141</text>
<text x="1172.5" y="409" font-size="9.6" fill="#000" textLength="38" lengthAdjust="spacingAndGlyphs">0.004537</text>
<text x="1172.5" y="439" font-size="9.6" fill="#000" >0.00</text>
<text x="1172.5" y="457.5" font-size="9.6" fill="#000" textLength="41" lengthAdjust="spacingAndGlyphs">-0.003362</text>
<text x="1172.5" y="474" font-size="9.6" fill="#000" >100</text>
<text x="1172.5" y="491" font-size="9.6" fill="#000" >70</text>
<text x="1172.5" y="521" font-size="9.6" fill="#000" >30</text>
<text x="1172.5" y="537" font-size="9.6" fill="#000" >0</text>
<text x="5.5" y="553" font-size="9.3" fill="#000" >26 Feb 2019</text>
<text x="69.5" y="553" font-size="9.3" fill="#000" >7 Mar 2019</text>
<text x="133.5" y="553" font-size="9.3" fill="#000" >16 Mar 2019</text>
<text x="197.5" y="553" font-size="9.3" fill="#000" >26 Mar 2019</text>
<text x="261.5" y="553" font-size="9.3" fill="#000" >4 Apr 2019</text>
<text x="325.5" y="553" font-size="9.3" fill="#000" >13 Apr 2019</text>
<text x="389.5" y="553" font-size="9.3" fill="#000" >23 Apr 2019</text>
<text x="453.5" y="553" font-size="9.3" fill="#000" >2 May 2019</text>
<text x="517.5" y="553" font-size="9.3" fill="#000" >11 May 2019</text>
<text x="581.5" y="553" font-size="9.3" fill="#000" >21 May 2019</text>
<text x="645.5" y="553" font-size="9.3" fill="#000" >30 May 2019</text>
<text x="709.5" y="553" font-size="9.3" fill="#000" >8 Jun 2019</text>
<text x="773.5" y="553" font-size="9.3" fill="#000" >18 Jun 2019</text>
<text x="837.5" y="553" font-size="9.3" fill="#000" >27 Jun 2019</text>
<text x="901.5" y="553" font-size="9.3" fill="#000" >6 Jul 2019</text>
<text x="10.5" y="411" font-size="9.6" fill="#000" textLength="150" lengthAdjust="spacingAndGlyphs">MACD(12,26,9) -0.000872 0.001663</text>
<text x="10.5" y="475.5" font-size="9.6" fill="#000" textLength="67" lengthAdjust="spacingAndGlyphs">RSI(14) 39.7083</text>
<text x="21.6" y="38.6" font-size="9.6" fill="#000" textLength="63" lengthAdjust="spacingAndGlyphs">EURUSD,Daily</text>
<text x="91.6" y="38.6" font-size="9.6" fill="#000" textLength="32" lengthAdjust="spacingAndGlyphs">1.12076</text>
<text x="127.6" y="38.6" font-size="9.6" fill="#000" textLength="32" lengthAdjust="spacingAndGlyphs">1.12200</text>
<text x="163.5" y="38.6" font-size="9.6" fill="#000" textLength="32" lengthAdjust="spacingAndGlyphs">1.12063</text>
<text x="199.5" y="38.6" font-size="9.6" fill="#000" textLength="32" lengthAdjust="spacingAndGlyphs">1.12141</text>
<text x="-3" y="15" font-size="10" fill="#3c3c3c" textLength="11" lengthAdjust="spacingAndGlyphs">15</text>
<text x="17.6" y="15" font-size="10" fill="#3c3c3c" textLength="17.7" lengthAdjust="spacingAndGlyphs">M30</text>
<text x="48.3" y="15" font-size="10" fill="#3c3c3c" textLength="11.7" lengthAdjust="spacingAndGlyphs">H1</text>
<text x="75.6" y="15" font-size="10" fill="#3c3c3c" textLength="12.3" lengthAdjust="spacingAndGlyphs">H4</text>
<text x="104.3" y="15" font-size="10" fill="#3c3c3c" textLength="12.1" lengthAdjust="spacingAndGlyphs">D1</text>
<text x="131.8" y="15" font-size="10" fill="#3c3c3c" textLength="14.4" lengthAdjust="spacingAndGlyphs">W1</text>
<text x="158.5" y="15" font-size="10" fill="#3c3c3c" textLength="14.9" lengthAdjust="spacingAndGlyphs">MN</text>
<text x="19" y="577.5" font-size="12.5" fill="#000" textLength="80" lengthAdjust="spacingAndGlyphs">EURUSD,Daily</text>
<text x="122.4" y="577.5" font-size="12.5" fill="#6d6d6d" textLength="81.6" lengthAdjust="spacingAndGlyphs">AUDUSD,Daily</text>
<text x="225.4" y="577.5" font-size="12.5" fill="#6d6d6d" textLength="78.2" lengthAdjust="spacingAndGlyphs">USDCHF,Daily</text>
<text x="326.4" y="577.5" font-size="12.5" fill="#6d6d6d" textLength="80.6" lengthAdjust="spacingAndGlyphs">USDCAD,Daily</text>
<text x="429.3" y="577.5" font-size="12.5" fill="#6d6d6d" textLength="83" lengthAdjust="spacingAndGlyphs">USDCNH,Daily</text>
<text x="534.2" y="577.5" font-size="12.5" fill="#6d6d6d" textLength="68.4" lengthAdjust="spacingAndGlyphs">XAUUSD,H4</text>
<text x="624.9" y="577.5" font-size="12.5" fill="#6d6d6d" textLength="46.9" lengthAdjust="spacingAndGlyphs">DJ30,H4</text>
<text x="694.7" y="577.5" font-size="12.5" fill="#6d6d6d" textLength="60.1" lengthAdjust="spacingAndGlyphs">USDOil,H1</text>
<text x="777" y="577.5" font-size="12.5" fill="#6d6d6d" textLength="66.3" lengthAdjust="spacingAndGlyphs">USDCHF,H1</text>
<text x="867.3" y="577.5" font-size="12.5" fill="#6d6d6d" textLength="67.7" lengthAdjust="spacingAndGlyphs">GBPUSD,H1</text>
<text x="959" y="577.5" font-size="12.5" fill="#6d6d6d" textLength="67.5" lengthAdjust="spacingAndGlyphs">EURUSD,H1</text>
<text x="1050.3" y="577.5" font-size="12.5" fill="#6d6d6d" textLength="68.6" lengthAdjust="spacingAndGlyphs">GBPAUD,H1</text>
<text x="1141.5" y="577.5" font-size="12.5" fill="#6d6d6d" textLength="36.4" lengthAdjust="spacingAndGlyphs">USDJP</text>

<text x="21.7" y="62.7" font-size="12" fill="#fff" textLength="25.2" lengthAdjust="spacingAndGlyphs">SELL</text>
<text x="189.8" y="62.9" font-size="12" fill="#fff" textLength="23" lengthAdjust="spacingAndGlyphs">BUY</text>
<text x="148.6" y="62" font-size="12" fill="#000" text-anchor="end">5.00</text>
<text x="29.5" y="102" font-size="12.5" font-weight="bold" fill="#fff" textLength="23.5" lengthAdjust="spacingAndGlyphs">1.12</text>
<text x="58" y="102" font-size="35" fill="#fff" textLength="33" lengthAdjust="spacingAndGlyphs">14</text>
<text x="96.3" y="85.6" font-size="11.5" font-weight="bold" fill="#fff">1</text>
<text x="139.7" y="102" font-size="12.5" font-weight="bold" fill="#fff" textLength="22.6" lengthAdjust="spacingAndGlyphs">1.12</text>
<text x="169" y="102" font-size="35" fill="#fff" textLength="32.4" lengthAdjust="spacingAndGlyphs">15</text>
<text x="207.3" y="85.9" font-size="11.5" font-weight="bold" fill="#fff">9</text>

</g>
</svg>
</body></html>
